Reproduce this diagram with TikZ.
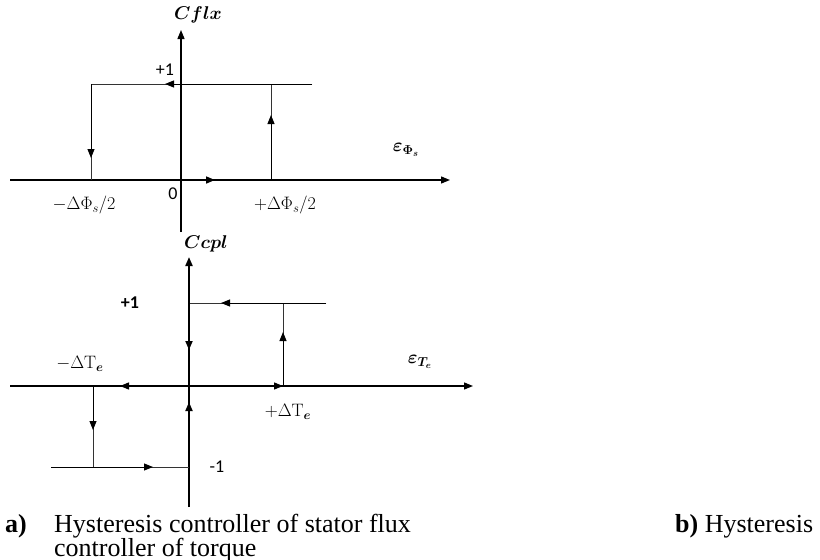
\RequirePackage{fix-cm}
\documentclass[tikz,border=0pt]{standalone}
\usepackage{fontspec}
\usepackage{bm}
\usetikzlibrary{arrows.meta}
\newfontfamily\capfont{Liberation Serif}
\newfontfamily\lblfont{Carlito}
\tikzset{
  axis/.style={line width=1.3pt, draw=black, -{Triangle[length=9pt,width=7pt]}},
  hyst/.style={line width=1pt, draw=black!80},
  tipped/.style={-{Triangle[length=9pt,width=7pt]}, line width=1pt, draw=black},
  lbl/.style={inner sep=0pt, font=\fontsize{18}{21}\selectfont},
  sanslbl/.style={inner sep=0pt, font=\lblfont\fontsize{18}{21}\selectfont},
  biglbl/.style={inner sep=0pt, font=\fontsize{18.5}{22}\selectfont},
  captxt/.style={inner sep=0pt, anchor=base west, font=\capfont\fontsize{26}{30}\selectfont}
}
\begin{document}
\begin{tikzpicture}[x=1pt,y=-1pt]
\useasboundingbox (0,0) rectangle (820,560);
% ---------- top diagram ----------
\coordinate (x1s) at (10,180);
\coordinate (x1e) at (450,180);
\coordinate (y1s) at (181,232);
\coordinate (y1e) at (181,30);
\coordinate (A) at (312,84);
\coordinate (B) at (91,84);
\coordinate (Ba) at (165,84);
\coordinate (C) at (91,180);
\coordinate (Ca) at (91,158);
\coordinate (D) at (271,180);
\coordinate (E) at (271,84);
\coordinate (Da) at (271,115);
\coordinate (F) at (125,180);
\coordinate (Fa) at (215,180);
\draw[axis] (x1s) -- (x1e);
\draw[axis] (y1s) -- (y1e);
\draw[hyst] (A) -- (B) -- (C);
\draw[hyst] (D) -- (E);
\draw[tipped] (A) -- (Ba);
\draw[tipped] (B) -- (Ca);
\draw[tipped] (D) -- (Da);
\draw[tipped, line width=1.6pt] (F) -- (Fa);
\node[biglbl] (cflx) at (198,15) {$\bm{Cflx}$};
\node[sanslbl] (p1a) at (165,70) {+1};
\node[biglbl] (eps1) at (406,150) {$\bm{\varepsilon_{\Phi_s}}$};
\node[sanslbl] (zero) at (173,194) {0};
\node[lbl] (mphi) at (84,205) {$-\Delta\Phi_s/2$};
\node[lbl] (pphi) at (285,205) {$+\Delta\Phi_s/2$};
% ---------- bottom diagram ----------
\coordinate (O2) at (189,386);
\coordinate (x2s) at (10,386);
\coordinate (x2e) at (473,386);
\coordinate (y2s) at (189,507);
\coordinate (y2e) at (189,257);
\coordinate (G) at (326,303);
\coordinate (H) at (189,303);
\coordinate (Ga) at (221,303);
\coordinate (Ha) at (189,350);
\coordinate (I) at (283,386);
\coordinate (J) at (283,303);
\coordinate (Ia) at (283,332);
\coordinate (Or) at (283,386);
\coordinate (Ol) at (120,386);
\coordinate (N) at (189,467);
\coordinate (Na) at (189,402);
\coordinate (K) at (93,386);
\coordinate (L) at (93,467);
\coordinate (Ka) at (93,430);
\coordinate (M) at (51,467);
\coordinate (Ma) at (153,467);
\draw[axis] (x2s) -- (x2e);
\draw[axis, line width=2pt] (y2s) -- (y2e);
\draw[hyst] (G) -- (H);
\draw[hyst] (I) -- (J);
\draw[hyst] (K) -- (L);
\draw[hyst] (M) -- (N);
\draw[tipped] (G) -- (Ga);
\draw[tipped, line width=1.8pt] (H) -- (Ha);
\draw[tipped] (I) -- (Ia);
\draw[tipped, line width=1.3pt] (O2) -- (Or);
\draw[tipped, line width=1.3pt] (O2) -- (Ol);
\draw[tipped, line width=1.8pt] (N) -- (Na);
\draw[tipped] (K) -- (Ka);
\draw[tipped] (M) -- (Ma);
\node[biglbl] (ccpl) at (206,244) {$\bm{Ccpl}$};
\node[sanslbl, font=\lblfont\bfseries\fontsize{18}{21}\selectfont] (p1b) at (130,303) {+1};
\node[lbl] (mte) at (80,364) {$-\Delta\mathrm{T}_{\bm{e}}$};
\node[biglbl] (eps2) at (420,362) {$\bm{\varepsilon_{T_e}}$};
\node[lbl] (pte) at (288,412) {$+\Delta\mathrm{T}_{\bm{e}}$};
\node[sanslbl] (m1) at (217,467) {-1};
% ---------- captions ----------
\node[captxt] (ca) at (5,532) {\bfseries a)};
\node[captxt] (c1) at (54,532) {Hysteresis controller of stator flux};
\node[captxt] (c2) at (54,556) {controller of torque};
\node[captxt] (cb) at (675,532) {\textbf{b)} Hysteresis};
\end{tikzpicture}
\end{document}
